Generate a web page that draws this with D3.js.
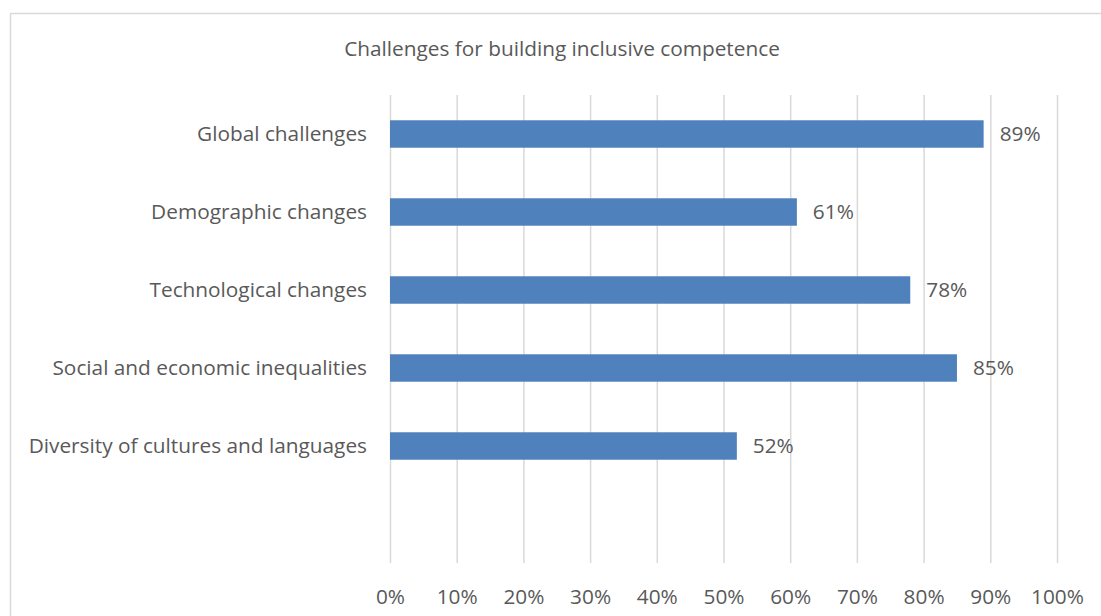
<!DOCTYPE html>
<html><head><meta charset="utf-8">
<script src="https://cdn.jsdelivr.net/npm/d3@7"></script>
<style>
html,body{margin:0;padding:0;background:#fff;}
svg{display:block;}
</style></head>
<body>
<svg id="c" width="1101" height="616"></svg>
<script>
const title = "Challenges for building inclusive competence";
const categories = ["Global challenges","Demographic changes","Technological changes","Social and economic inequalities","Diversity of cultures and languages",""];
const values = [89,61,78,85,52,null];
const xTicks = [0,10,20,30,40,50,60,70,80,90,100];

const FONT = "'Open Sans', sans-serif";
const FS = 20.8;
const TXT = "#595959";
const svg = d3.select("#c");

svg.append("rect").attr("x",10.5).attr("y",13.5).attr("width",1120).attr("height",640)
  .attr("fill","#fff").attr("stroke","#d9d9d9").attr("stroke-width",1.5);

svg.append("text").attr("x",562).attr("y",56).attr("text-anchor","middle")
  .attr("font-family",FONT).attr("font-size",FS).attr("fill",TXT).text(title);

const x = d3.scaleLinear().domain([0,100]).range([390,1057]);
const y = d3.scaleBand().domain(categories).range([95,563]).paddingInner(0.648).paddingOuter(0.324);

// gridlines
svg.append("g").selectAll("line").data(xTicks).join("line")
  .attr("x1",d=>x(d)+0.5).attr("x2",d=>x(d)+0.5).attr("y1",95).attr("y2",563)
  .attr("stroke","#d9d9d9").attr("stroke-width",1.5);

// x axis labels
const xAxis = d3.axisBottom(x).tickValues(xTicks).tickFormat(d=>d+"%").tickSize(0).tickPadding(0);
const gx = svg.append("g").attr("transform","translate(0,589)").call(xAxis);
gx.select(".domain").remove();
gx.selectAll("text").attr("font-family",FONT).attr("font-size",FS).attr("fill",TXT);

// y axis labels
const yAxis = d3.axisLeft(y).tickSize(0).tickPadding(23);
const gy = svg.append("g").attr("transform","translate(390,0)").call(yAxis);
gy.select(".domain").remove();
gy.selectAll("text").attr("font-family",FONT).attr("font-size",FS).attr("fill",TXT);

const data = categories.map((c,i)=>({c,v:values[i]})).filter(d=>d.v!=null);

svg.append("g").selectAll("rect").data(data).join("rect")
  .attr("x",x(0)).attr("y",d=>y(d.c)).attr("width",d=>x(d.v)-x(0)).attr("height",y.bandwidth())
  .attr("fill","#4f81bd");

svg.append("g").selectAll("text").data(data).join("text")
  .attr("x",d=>x(d.v)+16).attr("y",d=>y(d.c)+y.bandwidth()/2).attr("dy","0.35em")
  .attr("font-family",FONT).attr("font-size",FS).attr("fill",TXT).text(d=>d.v+"%");
</script>
</body></html>
